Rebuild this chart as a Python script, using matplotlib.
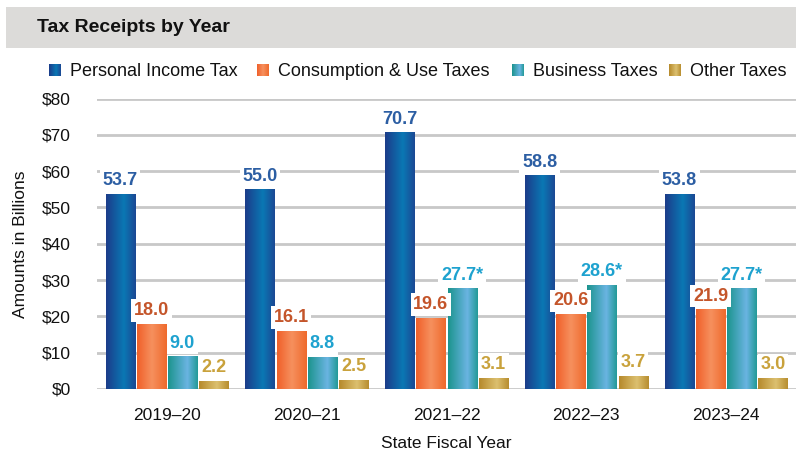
import numpy as np
import matplotlib
matplotlib.use("Agg")
import matplotlib.pyplot as plt
from matplotlib.colors import LinearSegmentedColormap
from matplotlib.patches import Rectangle

plt.rcParams['font.family'] = ['Liberation Sans', 'DejaVu Sans']

years = ['2019\u201320', '2020\u201321', '2021\u201322', '2022\u201323', '2023\u201324']
series = ['Personal Income Tax', 'Consumption & Use Taxes', 'Business Taxes', 'Other Taxes']
personal = [53.7, 55.0, 70.7, 58.8, 53.8]
consumption = [18.0, 16.1, 19.6, 20.6, 21.9]
business = [9.0, 8.8, 27.7, 28.6, 27.7]
other = [2.2, 2.5, 3.1, 3.7, 3.0]
business_note = ['', '', '*', '*', '*']

values = [personal, consumption, business, other]
notes = [[''] * 5, [''] * 5, business_note, [''] * 5]

# left-to-right shading for each series
grads = [
    [(0.0, '#1c3c8a'), (0.6, '#0a78b4'), (1.0, '#1b4894')],
    [(0.0, '#f0602a'), (0.5, '#f6905e'), (1.0, '#ef6a2c')],
    [(0.0, '#1c948e'), (0.65, '#6ab4e2'), (1.0, '#239a98')],
    [(0.0, '#b68a2c'), (0.6, '#dcc070'), (1.0, '#b88e30')],
]
label_colors = ['#2c5ea3', '#c4552a', '#1ea2cf', '#c9a23c']
cmaps = [LinearSegmentedColormap.from_list('g%d' % i, g) for i, g in enumerate(grads)]
grad_img = np.linspace(0, 1, 64).reshape(1, -1)

W, H = 796, 453
fig = plt.figure(figsize=(W / 100, H / 100), dpi=100)
ax = fig.add_axes([97 / W, 1 - 389 / H, 699 / W, (389 - 98.5) / H])

# title band
fig.patches.append(Rectangle((6 / W, 1 - 48 / H), 790 / W, 41 / H,
                             transform=fig.transFigure, facecolor='#dcdbd9',
                             edgecolor='none', zorder=0))
fig.text(37 / W, 1 - 27.5 / H, 'Tax Receipts by Year', fontsize=14,
         fontweight='bold', va='center', ha='left', color='#111111')

x = np.arange(len(years))
width = 0.208
step = 0.223
offsets = (np.arange(4) - 1.5) * step

for i in range(4):
    bars = ax.bar(x + offsets[i], values[i], width, color='none', zorder=2)
    for j, b in enumerate(bars):
        x0, w, h = b.get_x(), b.get_width(), b.get_height()
        im = ax.imshow(grad_img, cmap=cmaps[i], aspect='auto',
                       extent=(x0, x0 + w, 0, h), zorder=2, interpolation='bilinear')
        im.set_clip_path(b)
        ax.text(x0 + w / 2, h + 1.3, '%.1f%s' % (values[i][j], notes[i][j]),
                ha='center', va='bottom', fontsize=13, fontweight='bold',
                color=label_colors[i], zorder=4,
                bbox=dict(boxstyle='square,pad=0.15', facecolor='white',
                          edgecolor='none'))

ax.set_xlim(-0.5, 4.5)
ax.set_ylim(0, 80)
ax.set_yticks(range(0, 81, 10))
ax.set_yticklabels(['$%d' % v for v in range(0, 81, 10)])
ax.set_xticks(x)
ax.set_xticklabels(years)
ax.tick_params(axis='both', length=0, labelsize=12.5, colors='#111111')
ax.tick_params(axis='x', pad=14)
ax.tick_params(axis='y', pad=19)
ax.grid(axis='y', color='#c8c8c8', linewidth=2, zorder=0)
ax.set_axisbelow(True)
for s in ax.spines.values():
    s.set_visible(False)
ax.set_xlabel('State Fiscal Year', fontsize=12.5, labelpad=9, color='#111111')
ax.set_ylabel('Amounts in Billions', fontsize=12.5, labelpad=10, color='#111111')

# legend row: gradient swatch + label
leg_x = [49, 257, 512, 669]
leg_y = 70
sw = 12
for i, name in enumerate(series):
    sax = fig.add_axes([leg_x[i] / W, 1 - (leg_y + sw / 2) / H, sw / W, sw / H])
    sax.imshow(grad_img, cmap=cmaps[i], aspect='auto', interpolation='bilinear')
    sax.set_axis_off()
    fig.text((leg_x[i] + sw + 9) / W, 1 - (leg_y + 6) / H, name, fontsize=13,
             va='baseline', ha='left', color='#111111')

fig.savefig('out.png', dpi=100)
